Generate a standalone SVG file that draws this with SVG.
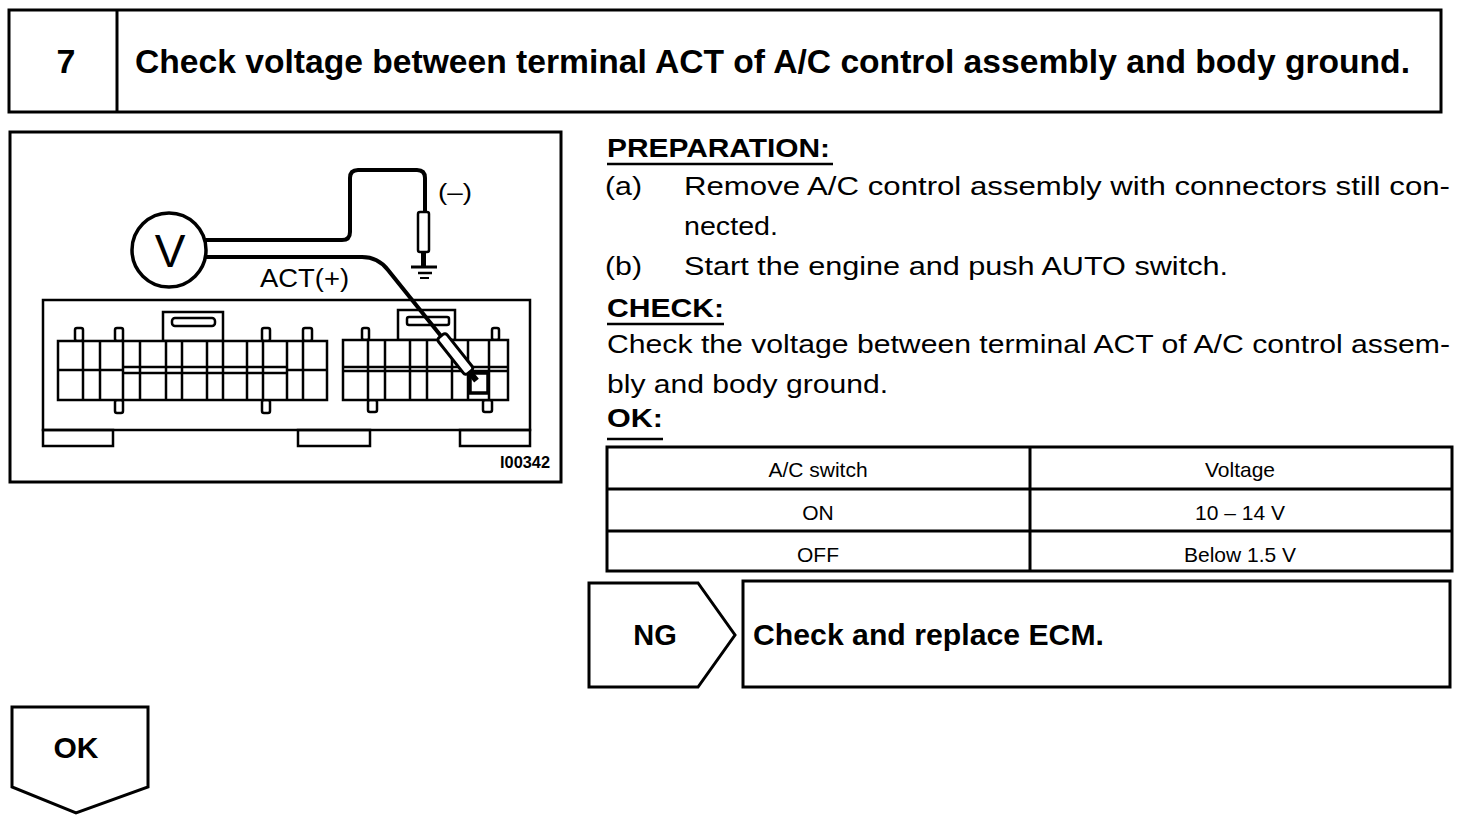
<svg xmlns="http://www.w3.org/2000/svg" width="1472" height="820" viewBox="0 0 1472 820">
<style>
  .ln{fill:none;stroke:#000;stroke-width:3}
  .thin{fill:none;stroke:#000;stroke-width:2.5}
  .wf{fill:#fff;stroke:#000;stroke-width:2.5}
  .wire{fill:none;stroke:#000;stroke-width:4;stroke-linecap:round;stroke-linejoin:round}
  text{font-family:"Liberation Sans",Arial,sans-serif;fill:#000}
  .b{font-weight:bold}
  .body{font-size:26px}
  .tbl{font-size:21px;text-anchor:middle}
</style>
<rect width="1472" height="820" fill="#fff"/>

<g id="header">
  <rect class="ln" x="9" y="10" width="1432" height="102"/>
  <line class="ln" x1="117" y1="10" x2="117" y2="112"/>
  <text class="b" x="66" y="73" font-size="34" text-anchor="middle">7</text>
  <text class="b" x="135" y="73" font-size="34" textLength="1275" lengthAdjust="spacingAndGlyphs">Check voltage between terminal ACT of A/C control assembly and body ground.</text>
</g>

<g id="illustration">
  <rect class="ln" x="10" y="132" width="551" height="350"/>
  <!-- connector housing -->
  <rect class="thin" x="43" y="300" width="487" height="130"/>
  <rect class="thin" x="43" y="430" width="70" height="16"/>
  <rect class="thin" x="298" y="430" width="72" height="16"/>
  <rect class="thin" x="460" y="430" width="70" height="16"/>
  <!-- left connector -->
  <g id="left-connector">
    <rect class="wf" x="163" y="312" width="60" height="29"/>
    <rect class="thin" x="172" y="318" width="43" height="8" rx="3"/>
    <rect class="wf" x="75" y="328" width="8" height="13" rx="2"/>
    <rect class="wf" x="115" y="328" width="8" height="13" rx="2"/>
    <rect class="wf" x="262" y="328" width="8" height="13" rx="2"/>
    <rect class="wf" x="303" y="328" width="9" height="13" rx="2"/>
    <rect class="wf" x="115" y="400" width="8" height="13" rx="2"/>
    <rect class="wf" x="262" y="400" width="8" height="13" rx="2"/>
    <rect class="wf" x="58" y="341" width="269" height="59"/>
    <path class="thin" d="M58,370H123M287,370H327M123,367H287M123,373H287
      M83,341V400M100,341V400M123,341V400M140,341V400M166,341V400M182,341V400
      M207,341V400M223,341V400M247,341V400M263,341V400M287,341V400M303,341V400"/>
  </g>
  <!-- right connector -->
  <g id="right-connector">
    <rect class="wf" x="398" y="310" width="57" height="30"/>
    <rect class="thin" x="407" y="317" width="42" height="8" rx="2"/>
    <rect class="wf" x="362" y="328" width="7" height="12" rx="2"/>
    <rect class="wf" x="492" y="328" width="7" height="12" rx="2"/>
    <rect class="wf" x="368" y="400" width="9" height="12" rx="2"/>
    <rect class="wf" x="483" y="400" width="9" height="12" rx="2"/>
    <rect class="wf" x="343" y="340" width="165" height="60"/>
    <path class="thin" d="M343,367H508M343,371H508
      M368,340V400M385,340V400M410,340V400M427,340V400M452,340V400M468,340V400M489,340V400"/>
    <rect fill="none" stroke="#000" stroke-width="3.5" x="470" y="373" width="18" height="20"/>
  </g>
  <!-- voltmeter -->
  <g id="voltmeter">
    <circle cx="169" cy="250" r="37" fill="#fff" stroke="#000" stroke-width="3.5"/>
    <text x="170" y="267" font-size="46" text-anchor="middle">V</text>
  </g>
  <g id="wires">
    <path class="wire" d="M206,240H342Q350,240 350,232V178Q350,170 358,170H417Q425,170 425,178V212"/>
    <path class="wire" d="M206,257H362Q378,257 388,270L441,336"/>
    <!-- ground probe -->
    <rect class="wf" x="418" y="212" width="11" height="40" rx="2" stroke-width="3"/>
    <line x1="423.5" y1="252" x2="423.5" y2="267" stroke="#000" stroke-width="5"/>
    <line x1="411" y1="267" x2="437" y2="267" stroke="#000" stroke-width="3"/>
    <line x1="418" y1="273" x2="432" y2="273" stroke="#000" stroke-width="2.5"/>
    <line x1="420" y1="278" x2="429" y2="278" stroke="#000" stroke-width="2"/>
    <!-- terminal probe -->
    <g transform="translate(441,336) rotate(51.5)">
      <rect x="0" y="-5.5" width="46" height="11" rx="3" fill="#fff" stroke="#000" stroke-width="3"/>
      <line x1="46" y1="0" x2="57" y2="0" stroke="#000" stroke-width="6"/>
    </g>
  </g>
  <text x="438" y="200" font-size="24" textLength="34" lengthAdjust="spacingAndGlyphs">(–)</text>
  <text x="260" y="287" font-size="25" textLength="89" lengthAdjust="spacingAndGlyphs">ACT(+)</text>
  <text class="b" x="500" y="468" font-size="16" textLength="50" lengthAdjust="spacingAndGlyphs">I00342</text>
</g>

<g id="instructions">
  <text class="b body" x="607" y="157" textLength="223" lengthAdjust="spacingAndGlyphs">PREPARATION:</text>
  <line class="thin" x1="607" y1="164" x2="833" y2="164"/>
  <text class="body" x="605" y="195" textLength="37" lengthAdjust="spacingAndGlyphs">(a)</text>
  <text class="body" x="684" y="195" textLength="766" lengthAdjust="spacingAndGlyphs">Remove A/C control assembly with connectors still con-</text>
  <text class="body" x="684" y="235" textLength="94" lengthAdjust="spacingAndGlyphs">nected.</text>
  <text class="body" x="605" y="275" textLength="37" lengthAdjust="spacingAndGlyphs">(b)</text>
  <text class="body" x="684" y="275" textLength="544" lengthAdjust="spacingAndGlyphs">Start the engine and push AUTO switch.</text>
  <text class="b body" x="607" y="317" textLength="117" lengthAdjust="spacingAndGlyphs">CHECK:</text>
  <line class="thin" x1="607" y1="324" x2="724" y2="324"/>
  <text class="body" x="607" y="353" textLength="843" lengthAdjust="spacingAndGlyphs">Check the voltage between terminal ACT of A/C control assem-</text>
  <text class="body" x="607" y="393" textLength="281" lengthAdjust="spacingAndGlyphs">bly and body ground.</text>
  <text class="b body" x="607" y="427" textLength="56" lengthAdjust="spacingAndGlyphs">OK:</text>
  <line class="thin" x1="607" y1="439" x2="663" y2="439"/>
</g>

<g id="table">
  <rect class="ln" x="607" y="447" width="845" height="124"/>
  <path class="ln" d="M607,489H1452M607,531H1452M1030,447V571"/>
  <text class="tbl" x="818" y="477">A/C switch</text>
  <text class="tbl" x="1240" y="477">Voltage</text>
  <text class="tbl" x="818" y="520">ON</text>
  <text class="tbl" x="1240" y="520">10 – 14 V</text>
  <text class="tbl" x="818" y="562">OFF</text>
  <text class="tbl" x="1240" y="562">Below 1.5 V</text>
</g>

<g id="ng">
  <polygon class="ln" points="589,583 698,583 735,635 698,687 589,687"/>
  <text class="b" x="655" y="645" font-size="29" text-anchor="middle">NG</text>
</g>

<g id="ecm">
  <rect class="ln" x="743" y="581" width="707" height="106"/>
  <text class="b" x="753" y="645" font-size="30" textLength="351" lengthAdjust="spacingAndGlyphs">Check and replace ECM.</text>
</g>

<g id="ok">
  <polygon class="ln" points="12,707 148,707 148,787 76,813 12,787"/>
  <text class="b" x="76" y="758" font-size="30" text-anchor="middle">OK</text>
</g>
</svg>
